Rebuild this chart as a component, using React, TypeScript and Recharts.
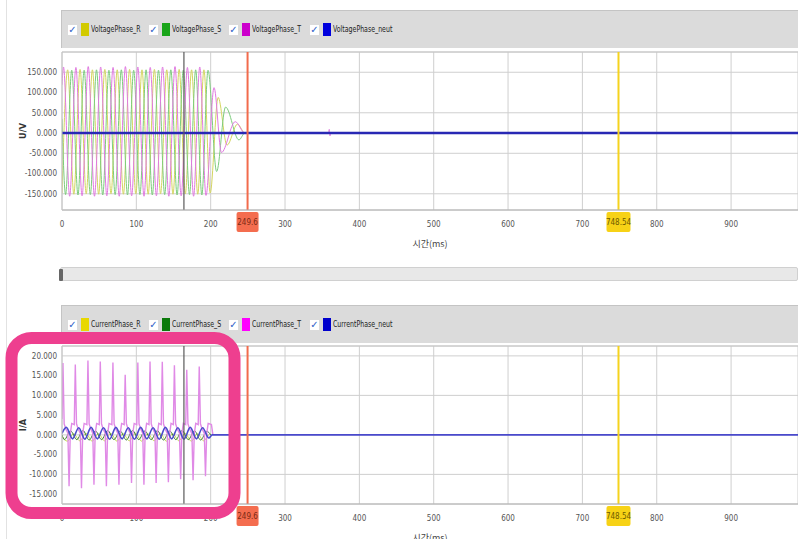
import React from 'react';
import { LineChart, Line, XAxis, YAxis, CartesianGrid, ReferenceLine } from 'recharts';

type Pt = [number, number];

const timeTicks = [0, 100, 200, 300, 400, 500, 600, 700, 800, 900];
const voltTicks = [-150, -100, -50, 0, 50, 100, 150];
const currTicks = [-15, -10, -5, 0, 5, 10, 15, 20];

const cursorT = 164;
const markerA = 249.6;
const markerB = 748.54;

// voltage phases, read peak by peak (ms, V)
const voltR: Pt[] = [
  [0, -149], [7.6, 156], [15.9, -151], [24.3, 157], [32.6, -150], [40.9, 156], [49.3, -151],
  [57.6, 157], [65.9, -150], [74.3, 156], [82.6, -151], [90.9, 157], [99.3, -150], [107.6, 156],
  [115.9, -151], [124.3, 157], [132.6, -150], [140.9, 156], [149.3, -151], [157.6, 157],
  [165.9, -150], [174.3, 156], [182.6, -151], [190.9, 156], [199.3, -148], [210.0, 88],
  [222.0, -30], [236.0, 22], [246.0, 0], [990, 0],
];
const voltS: Pt[] = [
  [0, 35], [4.8, -152], [13.1, 155], [21.5, -153], [29.8, 155], [38.1, -152], [46.4, 156],
  [54.8, -153], [63.1, 155], [71.5, -152], [79.8, 156], [88.1, -153], [96.4, 155], [104.8, -152],
  [113.1, 156], [121.5, -153], [129.8, 155], [138.1, -152], [146.4, 156], [154.8, -153],
  [163.1, 155], [171.5, -152], [179.8, 156], [188.1, -153], [196.4, 155], [208.0, -95],
  [220.0, 64], [238.0, -17], [246.0, 0], [990, 0],
];
const voltT: Pt[] = [
  [0, 119], [2.0, 163], [10.3, -156], [18.7, 162], [27.0, -155], [35.3, 164], [43.7, -156],
  [52.0, 163], [60.3, -155], [68.7, 162], [77.0, -156], [85.3, 164], [93.7, -155], [102.0, 163],
  [110.3, -156], [118.7, 162], [127.0, -155], [135.3, 163], [143.7, -156], [152.0, 164],
  [160.3, -155], [168.7, 162], [177.0, -156], [185.3, 163], [193.7, -154], [204.5, 112],
  [214.5, -48], [233.0, 28], [246.0, 0], [358.5, 0], [359.5, 9], [360.5, -7], [361.5, 0], [990, 0],
];
const voltN: Pt[] = [[0, 0], [990, 0]];

// currents (ms, A)
const currR: Pt[] = [
  [0, -0.3], [7.2, -1.6], [15.5, 0.3], [23.9, -1.5], [32.2, 0.4], [40.5, -1.6], [48.9, 0.3],
  [57.2, -1.5], [65.5, 0.4], [73.9, -1.6], [82.2, 0.3], [90.5, -1.5], [98.9, 0.4], [107.2, -1.6],
  [115.5, 0.3], [123.9, -1.5], [132.2, 0.4], [140.5, -1.6], [148.9, 0.3], [157.2, -1.5],
  [165.5, 0.4], [173.9, -1.6], [182.2, 0.3], [190.5, -1.5], [198.9, 0.2], [201, 0],
];
const currS: Pt[] = [
  [0, 0], [3.2, -1.2], [11.5, 1.0], [19.9, -1.2], [28.2, 1.1], [36.5, -1.3], [44.9, 1.0],
  [53.2, -1.2], [61.5, 1.1], [69.9, -1.2], [78.2, 1.0], [86.5, -1.3], [94.9, 1.1], [103.2, -1.2],
  [111.5, 1.0], [119.9, -1.2], [128.2, 1.1], [136.5, -1.3], [144.9, 1.0], [153.2, -1.2],
  [161.5, 1.1], [169.9, -1.2], [178.2, 1.0], [186.5, -1.3], [194.9, 0.9], [200, 0],
];
const currT: Pt[] = [
  [0, 4], [1.3, 18.2], [2.9, 2.8], [5.3, 1.4], [7.9, 0.4], [9.5, -13.0], [11.1, 0.2], [13.1, 2.9],
  [16.5, 2.6], [17.9, 17.8], [19.5, 2.8], [21.9, 1.4], [24.6, 0.4], [26.2, -13.5], [27.8, 0.2], [29.8, 2.9],
  [33.5, 2.6], [34.9, 18.8], [36.5, 2.8], [38.9, 1.4], [41.4, 0.4], [43.0, -12.6], [44.6, 0.2], [46.6, 2.9],
  [50.1, 2.6], [51.5, 18.6], [53.1, 2.8], [55.5, 1.4], [58.1, 0.4], [59.7, -13.0], [61.3, 0.2], [63.3, 2.9],
  [67.1, 2.6], [68.5, 18.3], [70.1, 2.8], [72.5, 1.4], [75.0, 0.4], [76.6, -12.6], [78.2, 0.2], [80.2, 2.9],
  [83.6, 2.6], [85.0, 15.2], [86.6, 2.8], [89.0, 1.4], [91.9, 0.4], [93.5, -12.2], [95.1, 0.2], [97.1, 2.9],
  [100.6, 2.6], [102.0, 18.3], [103.6, 2.8], [106.0, 1.4], [108.6, 0.4], [110.2, -12.6], [111.8, 0.2], [113.8, 2.9],
  [117.0, 2.6], [118.4, 18.6], [120.0, 2.8], [122.4, 1.4], [125.0, 0.4], [126.6, -12.2], [128.2, 0.2], [130.2, 2.9],
  [133.5, 2.6], [134.9, 18.5], [136.5, 2.8], [138.9, 1.4], [141.5, 0.4], [143.1, -12.0], [144.7, 0.2], [146.7, 2.9],
  [149.8, 2.6], [151.2, 17.6], [152.8, 2.8], [155.2, 1.4], [158.0, 0.4], [159.6, -11.2], [161.2, 0.2], [163.2, 2.9],
  [166.4, 2.6], [167.8, 16.5], [169.4, 2.8], [171.8, 1.4], [174.7, 0.4], [176.3, -11.5], [177.9, 0.2], [179.9, 2.9],
  [183.2, 2.6], [184.6, 17.3], [186.2, 2.8], [188.6, 1.4], [191.4, 0.4], [193.0, -10.5], [194.6, 0.2], [196.6, 2.9],
  [201.0, 2.6], [203.0, 0],
];
const currN: Pt[] = [
  [0, 0.4], [5.8, 1.9], [14.1, -1.0], [22.5, 1.8], [30.8, -1.1], [39.1, 1.9], [47.5, -1.0],
  [55.8, 1.8], [64.1, -1.1], [72.5, 1.9], [80.8, -1.0], [89.1, 1.8], [97.5, -1.1], [105.8, 1.9],
  [114.1, -1.0], [122.5, 1.8], [130.8, -1.1], [139.1, 1.9], [147.5, -1.0], [155.8, 1.8],
  [164.1, -1.1], [172.5, 1.9], [180.8, -1.0], [189.1, 1.8], [197.5, -0.8], [202, 0], [990, 0],
];

interface Series {
  key: string;
  name: string;
  swatch: string;
  stroke: string;
  width: number;
  curve: 'monotone' | 'linear';
  points: Pt[];
}

const voltSeries: Series[] = [
  { key: 'phR', name: 'VoltagePhase_R', swatch: '#d2ca00', stroke: '#d4d660', width: 1, curve: 'monotone', points: voltR },
  { key: 'phS', name: 'VoltagePhase_S', swatch: '#1aa51a', stroke: '#7ccc7c', width: 1, curve: 'monotone', points: voltS },
  { key: 'phT', name: 'VoltagePhase_T', swatch: '#cc00cc', stroke: '#e07ae0', width: 1, curve: 'monotone', points: voltT },
  { key: 'phN', name: 'VoltagePhase_neut', swatch: '#0000dd', stroke: '#2828b4', width: 2.5, curve: 'linear', points: voltN },
];

const currSeries: Series[] = [
  { key: 'phR', name: 'CurrentPhase_R', swatch: '#e8d800', stroke: '#c4dc50', width: 1, curve: 'monotone', points: currR },
  { key: 'phS', name: 'CurrentPhase_S', swatch: '#0b7a0b', stroke: '#3a7a3a', width: 1, curve: 'monotone', points: currS },
  { key: 'phT', name: 'CurrentPhase_T', swatch: '#ff00ff', stroke: '#e08ae6', width: 1.4, curve: 'linear', points: currT },
  { key: 'phN', name: 'CurrentPhase_neut', swatch: '#0000cc', stroke: '#4a4acc', width: 1.6, curve: 'monotone', points: currN },
];

function mergeSeries(series: Series[]) {
  const rows = new Map<number, any>();
  series.forEach((s) => {
    s.points.forEach(([t, v]) => {
      const row = rows.get(t) ?? { time: t };
      row[s.key] = v;
      rows.set(t, row);
    });
  });
  return [...rows.values()].sort((a, b) => a.time - b.time);
}

const narrow = '"Liberation Sans Narrow", "DejaVu Sans Condensed", sans-serif';
const tickStyle = { fontFamily: narrow, fontSize: 8, fill: '#555' };

const markerLabel = (text: string, fill: string, color: string, w: number) => (props: any) => {
  const { x, y, height } = props.viewBox;
  return (
    <g>
      <rect x={x - w / 2} y={y + height + 2} width={w} height={20} rx={2} fill={fill} />
      <text x={x} y={y + height + 15} textAnchor="middle" fontSize={8} fontFamily={narrow} fill={color}>
        {text}
      </text>
    </g>
  );
};

const yTitle = (text: string) => (props: any) => {
  const { y, height } = props.viewBox;
  const cy = y + height / 2;
  return (
    <text x={23} y={cy} transform={`rotate(-90 23 ${cy})`} textAnchor="middle" dominantBaseline="central"
      fontSize={9} fontWeight={700} fontFamily={narrow} fill="#333">
      {text}
    </text>
  );
};

const xTitle = (props: any) => {
  const { x, y, width } = props.viewBox;
  return (
    <text x={x + width / 2} y={y + 37} textAnchor="middle" fontSize={9} fontFamily='"Noto Sans CJK KR", sans-serif' fill="#444">
      시간(ms)
    </text>
  );
};

interface PanelProps {
  series: Series[];
  yTicks: number[];
  yDomain: [number, number];
  yLabel: string;
}

const Panel: React.FC<PanelProps> = ({ series, yTicks, yDomain, yLabel }) => {
  const data = mergeSeries(series);
  return (
    <LineChart width={798} height={254} data={data} margin={{ top: 52, right: 0, bottom: 0, left: 0 }}>
      <CartesianGrid stroke="#cfcfcf" />
      <XAxis
        dataKey="time"
        type="number"
        domain={[0, 990]}
        ticks={timeTicks}
        allowDataOverflow
        tickLine={false}
        tickMargin={5}
        axisLine={{ stroke: '#b0b0b0' }}
        tick={tickStyle}
        height={44}
        label={xTitle}
      />
      <YAxis
        type="number"
        domain={yDomain}
        ticks={yTicks}
        allowDataOverflow
        width={62}
        tickLine={false}
        tickSize={3}
        tickMargin={2}
        axisLine={{ stroke: '#c4c4c4' }}
        tick={tickStyle}
        tickFormatter={(v: number) => v.toFixed(3)}
        label={yTitle(yLabel)}
      />
      <ReferenceLine y={yDomain[1]} stroke="#c4c4c4" />
      {series.map((s) => (
        <Line
          key={s.key}
          dataKey={s.key}
          name={s.name}
          type={s.curve}
          stroke={s.stroke}
          strokeWidth={s.width}
          dot={false}
          connectNulls
          isAnimationActive={false}
        />
      ))}
      <ReferenceLine x={cursorT} stroke="#5a5a5a" strokeWidth={1.2} />
      <ReferenceLine x={markerA} stroke="#f26b4c" strokeWidth={2} label={markerLabel('249.6', '#f46d4f', '#7a2a14', 22)} />
      <ReferenceLine x={markerB} stroke="#f5d31e" strokeWidth={2} label={markerLabel('748.54', '#f7d216', '#6e5a00', 24)} />
    </LineChart>
  );
};

const legendLefts = [6, 87, 167, 248];

const LegendBar: React.FC<{ top: number; items: Series[] }> = ({ top, items }) => (
  <div
    style={{
      position: 'absolute', left: 61, top, width: 737, height: 38, background: '#dbdbdb',
      borderTop: '1px solid #c4c4c4', borderLeft: '1px solid #c4c4c4', boxSizing: 'border-box',
    }}
  >
    {items.map((s, i) => (
      <div key={s.key} style={{ position: 'absolute', left: legendLefts[i], top: 12, height: 13, display: 'flex', alignItems: 'center' }}>
        <span style={{ width: 9, height: 10, background: '#fff', color: '#2a62c8', fontSize: 10, fontWeight: 700, lineHeight: '10px', textAlign: 'center', fontFamily: '"DejaVu Sans", sans-serif' }}>
          ✓
        </span>
        <span style={{ width: 8, height: 13, background: s.swatch, marginLeft: 4 }} />
        <span style={{ display: 'inline-block', marginLeft: 2, fontSize: 8, fontFamily: '"DejaVu Sans", sans-serif', color: '#222', whiteSpace: 'nowrap', transform: 'scaleX(0.78)', transformOrigin: 'left center' }}>
          {s.name}
        </span>
      </div>
    ))}
  </div>
);

export default function App() {
  return (
    <div style={{ position: 'absolute', left: 0, top: 0, width: 798, height: 539, overflow: 'hidden', background: '#fff' }}>
      <div style={{ position: 'absolute', left: 6, top: 0, width: 1, height: 539, background: '#e2e2e2' }} />
      <div style={{ position: 'absolute', left: 0, top: 0 }}>
        <Panel series={voltSeries} yTicks={voltTicks} yDomain={[-190, 200]} yLabel="U/V" />
      </div>
      <div style={{ position: 'absolute', left: 0, top: 294 }}>
        <Panel series={currSeries} yTicks={currTicks} yDomain={[-17.5, 22.5]} yLabel="I/A" />
      </div>
      <LegendBar top={10} items={voltSeries} />
      <LegendBar top={305} items={currSeries} />
      <div style={{ position: 'absolute', left: 60, top: 267, width: 738, height: 14, background: '#e8e8e8', border: '1px solid #d0d0d0', borderRadius: 2, boxSizing: 'border-box' }} />
      <div style={{ position: 'absolute', left: 59, top: 269, width: 4, height: 12, background: '#666', borderRadius: 1 }} />
      <svg width={798} height={539} style={{ position: 'absolute', left: 0, top: 0, pointerEvents: 'none' }}>
        <rect x={11.5} y={338} width={223} height={175} rx={20} fill="none" stroke="#ee3f8f" strokeWidth={12} />
      </svg>
    </div>
  );
}
